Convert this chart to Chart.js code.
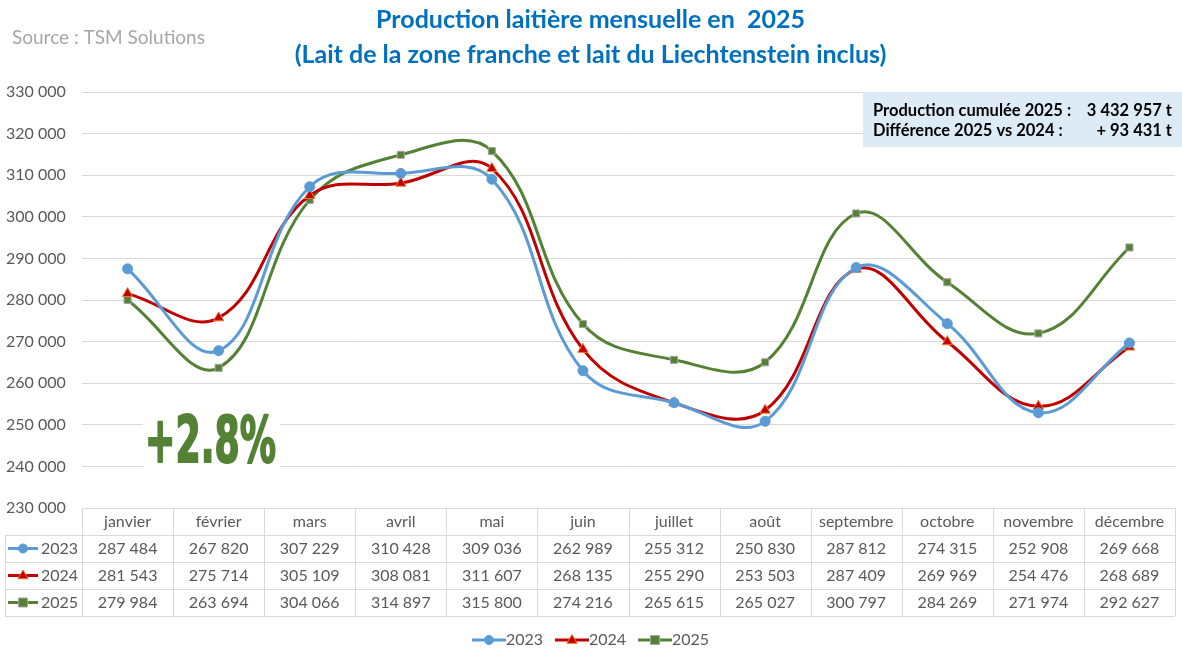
<!DOCTYPE html>
<html>
<head>
<meta charset="utf-8">
<script src="https://cdn.jsdelivr.net/npm/chart.js@4/dist/chart.umd.min.js"></script>
<style>
  html, body { margin: 0; padding: 0; background: #fff; }
  #wrap { width: 1182px; height: 648px; position: relative; }
</style>
</head>
<body>
<div id="wrap"><canvas id="chart"></canvas></div>
<script>
const months = ['janvier', 'février', 'mars', 'avril', 'mai', 'juin', 'juillet', 'août', 'septembre', 'octobre', 'novembre', 'décembre'];
const years = ['2023', '2024', '2025'];
const values2023 = [287484, 267820, 307229, 310428, 309036, 262989, 255312, 250830, 287812, 274315, 252908, 269668];
const values2024 = [281543, 275714, 305109, 308081, 311607, 268135, 255290, 253503, 287409, 269969, 254476, 268689];
const values2025 = [279984, 263694, 304066, 314897, 315800, 274216, 265615, 265027, 300797, 284269, 271974, 292627];
const titleLines = ['Production laitière mensuelle en  2025', '(Lait de la zone franche et lait du Liechtenstein inclus)'];
const infoLines = [['Production cumulée 2025 :', '3 432 957 t'], ['Différence 2025 vs 2024 :', '+ 93 431 t']];
const growthLabel = '+2.8%';

const FONT = 'Lato, "Open Sans", sans-serif';
const GREY = '#595959';

function fmt(v) {
    return v.toString().replace(/\B(?=(\d{3})+(?!\d))/g, ' ');
}

const series = [
    {label: years[0], data: values2023, color: '#5B9BD5', fill: '#5B9BD5', border: '#5B9BD5', style: 'circle', radius: 5},
    {label: years[1], data: values2024, color: '#C00000', fill: '#C00000', border: '#ED7D31', style: 'triangle', radius: 6},
    {label: years[2], data: values2025, color: '#548235', fill: '#548235', border: '#A5A5A5', style: 'rect', radius: 5}
];

// small legend key: line with the marker in the middle
function drawKey(ctx, s, x1, x2, y) {
    const r = s.radius - 0.5;
    const cx = (x1 + x2) / 2;
    ctx.save();
    ctx.strokeStyle = s.color;
    ctx.lineWidth = 3;
    ctx.beginPath();
    ctx.moveTo(x1, y);
    ctx.lineTo(x2, y);
    ctx.stroke();
    ctx.fillStyle = s.fill;
    ctx.strokeStyle = s.border;
    ctx.lineWidth = 1;
    ctx.beginPath();
    if (s.style === 'circle') {
        ctx.arc(cx, y, r, 0, Math.PI * 2);
    } else if (s.style === 'triangle') {
        ctx.moveTo(cx, y - r);
        ctx.lineTo(cx + r * 0.95, y + r * 0.6);
        ctx.lineTo(cx - r * 0.95, y + r * 0.6);
        ctx.closePath();
    } else {
        ctx.rect(cx - r, y - r, 2 * r, 2 * r);
    }
    ctx.fill();
    ctx.stroke();
    ctx.restore();
}

const extras = {
    id: 'extras',
    afterDraw(chart) {
        const ctx = chart.ctx;
        const area = chart.chartArea;
        const xs = chart.scales.x;
        const colW = (area.right - area.left) / months.length;
        ctx.save();

        // source
        ctx.font = '19px ' + FONT;
        ctx.fillStyle = '#A6A6A6';
        ctx.textAlign = 'left';
        ctx.textBaseline = 'middle';
        ctx.fillText('Source : TSM Solutions', 12, 38);

        // info box
        ctx.fillStyle = '#DDEBF7';
        ctx.fillRect(863, 92, 319, 55);
        ctx.font = 'bold 16.5px ' + FONT;
        ctx.fillStyle = '#000';
        infoLines.forEach(function(line, i) {
            const y = 111 + i * 20;
            ctx.textAlign = 'left';
            ctx.fillText(line[0], 873, y);
            ctx.textAlign = 'right';
            ctx.fillText(line[1], 1172, y);
        });

        // growth label
        ctx.fillStyle = '#fff';
        ctx.fillRect(143, 408, 137, 62);
        ctx.font = 'bold 64px "Liberation Sans Narrow", "DejaVu Sans Condensed", sans-serif';
        ctx.textAlign = 'left';
        ctx.textBaseline = 'alphabetic';
        const w = ctx.measureText(growthLabel).width;
        ctx.save();
        ctx.translate(145, 462);
        ctx.scale(131 / w, 1);
        ctx.fillStyle = '#548235';
        ctx.strokeStyle = '#548235';
        ctx.lineWidth = 2;
        ctx.lineJoin = 'round';
        ctx.fillText(growthLabel, 0, 0);
        ctx.strokeText(growthLabel, 0, 0);
        ctx.restore();

        // data table
        const top = area.bottom;
        const rowH = 27;
        const tableLeft = 5;
        ctx.strokeStyle = '#D9D9D9';
        ctx.lineWidth = 1;
        ctx.beginPath();
        ctx.moveTo(area.left, top + 0.5);
        ctx.lineTo(area.right, top + 0.5);
        for (let r = 1; r <= 4; r++) {
            ctx.moveTo(tableLeft, top + r * rowH + 0.5);
            ctx.lineTo(area.right, top + r * rowH + 0.5);
        }
        ctx.moveTo(tableLeft + 0.5, top + rowH);
        ctx.lineTo(tableLeft + 0.5, top + 4 * rowH);
        for (let c = 0; c <= months.length; c++) {
            const x = Math.round(area.left + c * colW) + 0.5;
            ctx.moveTo(x, top);
            ctx.lineTo(x, top + 4 * rowH);
        }
        ctx.stroke();

        ctx.font = '16px ' + FONT;
        ctx.fillStyle = GREY;
        ctx.textAlign = 'center';
        ctx.textBaseline = 'middle';
        months.forEach(function(m, i) {
            const x = xs.getPixelForValue(i);
            ctx.fillText(m, x, top + rowH / 2);
            series.forEach(function(s, j) {
                ctx.fillText(fmt(s.data[i]), x, top + rowH * (j + 1.5));
            });
        });
        series.forEach(function(s, j) {
            const y = top + rowH * (j + 1.5);
            drawKey(ctx, s, 8, 38, y);
            ctx.fillStyle = GREY;
            ctx.textAlign = 'left';
            ctx.font = '16px ' + FONT;
            ctx.fillText(s.label, 41, y);
        });

        // bottom legend
        const itemW = 83;
        let lx = 472;
        series.forEach(function(s) {
            drawKey(ctx, s, lx, lx + 34, 640);
            ctx.fillStyle = GREY;
            ctx.textAlign = 'left';
            ctx.font = '16px ' + FONT;
            ctx.fillText(s.label, lx + 34, 640);
            lx += itemW;
        });
        ctx.restore();
    }
};

new Chart(document.getElementById('chart'), {
    type: 'line',
    data: {
        labels: months,
        datasets: series.map(function(s) {
            return {
                label: s.label,
                data: s.data,
                borderColor: s.color,
                backgroundColor: s.fill,
                pointBackgroundColor: s.fill,
                pointBorderColor: s.border,
                pointBorderWidth: 1,
                pointStyle: s.style,
                pointRadius: s.radius,
                borderWidth: 3,
                tension: 0.4,
                fill: false
            };
        })
    },
    options: {
        responsive: true,
        maintainAspectRatio: false,
        animation: false,
        layout: {
            padding: {left: 6, right: 7, top: 0, bottom: 140}
        },
        plugins: {
            legend: {display: false},
            tooltip: {enabled: false},
            title: {
                display: true,
                text: titleLines,
                color: '#0070C0',
                font: {family: 'Lato, "Open Sans", sans-serif', size: 25, weight: 'bold', lineHeight: 1.4},
                padding: {top: 2, bottom: 20}
            }
        },
        scales: {
            x: {
                display: false,
                offset: true
            },
            y: {
                min: 230000,
                max: 330000,
                afterFit: function(scale) { scale.width = 76; },
                border: {display: false},
                grid: {color: '#D9D9D9', drawTicks: false},
                ticks: {
                    stepSize: 10000,
                    crossAlign: 'far',
                    color: GREY,
                    font: {family: 'Lato, "Open Sans", sans-serif', size: 16},
                    callback: function(v) { return fmt(v); }
                }
            }
        }
    },
    plugins: [extras]
});
</script>
</body>
</html>
